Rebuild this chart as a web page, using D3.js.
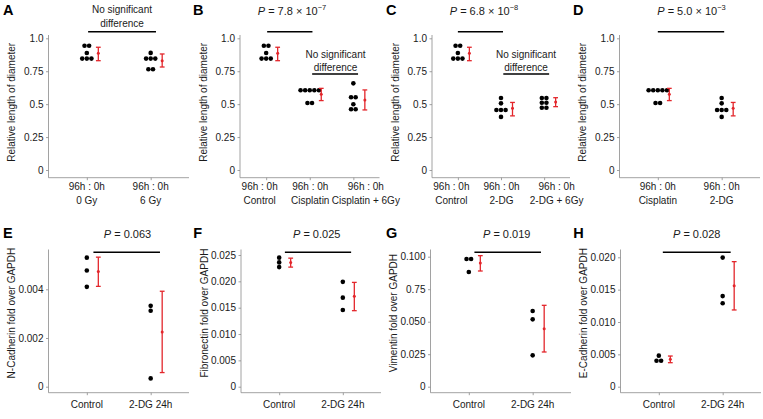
<!DOCTYPE html>
<html><head><meta charset="utf-8">
<script src="https://cdn.jsdelivr.net/npm/d3@7"></script>
<style>
html,body{margin:0;padding:0;background:#fff;}
svg{display:block;font-family:"Liberation Sans",Arial,Helvetica,sans-serif;}
</style></head>
<body>
<svg id="chart" width="763" height="419"></svg>
<script>
// ---------------- DATA ----------------
const topTickVals = [0, 0.25, 0.5, 0.75, 1.0];
const topTickLabels = ["0", "0.25", "0.5", "0.75", "1.0"];

const catsA = ["0 Gy", "6 Gy"];
const dotsA = [[0.944, 0.944, 0.888, 0.846, 0.846, 0.846], [0.889, 0.846, 0.846, 0.846, 0.765, 0.765]];
const meanA = [0.886, 0.830];
const lowA = [0.830, 0.782];
const highA = [0.932, 0.881];

const catsB = ["Control", "Cisplatin", "Cisplatin + 6Gy"];
const dotsB = [[0.944, 0.944, 0.888, 0.846, 0.846, 0.846], [0.605, 0.605, 0.605, 0.605, 0.605, 0.509, 0.509], [0.658, 0.552, 0.552, 0.499, 0.461, 0.461]];
const meanB = [0.886, 0.576, 0.532];
const lowB = [0.830, 0.527, 0.456];
const highB = [0.932, 0.620, 0.608];

const catsC = ["Control", "2-DG", "2-DG + 6Gy"];
const dotsC = [[0.944, 0.944, 0.888, 0.846, 0.846, 0.846], [0.547, 0.506, 0.456, 0.456, 0.456, 0.403], [0.547, 0.547, 0.511, 0.511, 0.473, 0.473]];
const meanC = [0.886, 0.469, 0.516];
const lowC = [0.830, 0.411, 0.481];
const highC = [0.932, 0.513, 0.549];

const catsD = ["Cisplatin", "2-DG"];
const dotsD = [[0.605, 0.605, 0.605, 0.605, 0.605, 0.509, 0.509], [0.547, 0.506, 0.456, 0.456, 0.456, 0.403]];
const meanD = [0.576, 0.469];
const lowD = [0.527, 0.411];
const highD = [0.620, 0.513];

const catsBottom = ["Control", "2-DG 24h"];

const ticksE = [0, 0.002, 0.004];
const tickLabelsE = ["0", "0.002", "0.004"];
const dotsE = [[0.0053, 0.00477, 0.0041], [0.00332, 0.00312, 0.00034]];
const meanE = [0.00473, 0.00225];
const lowE = [0.00412, 0.00058];
const highE = [0.00532, 0.00392];

const ticksF = [0, 0.005, 0.010, 0.015, 0.020, 0.025];
const tickLabelsF = ["0", "0.005", "0.010", "0.015", "0.020", "0.025"];
const dotsF = [[0.0245, 0.0236, 0.0227], [0.0199, 0.0169, 0.01456]];
const meanF = [0.0236, 0.01715];
const lowF = [0.0227, 0.01443];
const highF = [0.0244, 0.0198];

const ticksG = [0, 0.025, 0.050, 0.075, 0.100];
const tickLabelsG = ["0", "0.025", "0.050", "0.75", "0.100"];
const dotsG = [[0.0982, 0.0982, 0.0882], [0.0582, 0.0518, 0.0241]];
const meanG = [0.0951, 0.0446];
const lowG = [0.089, 0.0267];
const highG = [0.1008, 0.0626];

const ticksH = [0, 0.005, 0.010, 0.015, 0.020];
const tickLabelsH = ["0", "0.005", "0.010", "0.015", "0.020"];
const dotsH = [[0.0048, 0.00402, 0.00402], [0.01995, 0.014, 0.01289]];
const meanH = [0.00423, 0.01562];
const lowH = [0.00371, 0.01186];
const highH = [0.00474, 0.01933];

const yTitleTop = "Relative length of diameter";
const yTitlesBottom = ["N-Cadherin fold over GAPDH", "Fibronectin fold over GAPDH", "Vimentin fold over GAPDH", "E-Cadherin fold over GAPDH"];
const letters = ["A", "B", "C", "D", "E", "F", "G", "H"];
const pTexts = [null, ["7.8 × 10", "−7"], ["6.8 × 10", "−8"], ["5.0 × 10", "−3"], ["0.063"], ["0.025"], ["0.019"], ["0.028"]];
const xLine1 = "96h : 0h";

// ---------------- LAYOUT ----------------
const svg = d3.select("#chart");
const RED = "#e3262b";
const AXIS = "#8a8a8a";
const FS = 10;

const topRow = {yRange: [170, 38.3], frameTop: 35, frameBottom: 177.7, letterY: 15, pY: 15, titleDy: -4};
const botRow = {yRange: [386.7, 0], frameTop: 249.5, frameBottom: 392.7, letterY: 238.3, pY: 238.3, titleDy: -8};

const off3 = [-6.5, 0.5, 12.5];
const panels = [
  {row: topRow, x0: 48.5, x1: 189, cats: catsA, l1: true, dots: dotsA, mean: meanA, low: lowA, high: highA, dom: [0, 1], yTop: 38.3, ticks: topTickVals, tl: topTickLabels, title: yTitleTop, letterX: 3,
   sig: [{a: 0, b: 1, da: 1.3, db: 5.3, y: 31.7}], ns: {x: 122, y1: 13, y2: 26.5}},
  {row: topRow, x0: 240, x1: 379.5, cats: catsB, l1: true, lo: off3, dots: dotsB, mean: meanB, low: lowB, high: highB, dom: [0, 1], yTop: 38.3, ticks: topTickVals, tl: topTickLabels, title: yTitleTop, letterX: 193,
   sig: [{a: 0, b: 1, da: 1, db: 2.7, y: 31.7}, {a: 1, b: 2, da: 2.4, db: 4.7, y: 74}], ns: {x: 335.5, y1: 57.5, y2: 71}, pX: 292},
  {row: topRow, x0: 432, x1: 570, cats: catsC, l1: true, lo: off3, dots: dotsC, mean: meanC, low: lowC, high: highC, dom: [0, 1], yTop: 38.3, ticks: topTickVals, tl: topTickLabels, title: yTitleTop, letterX: 386,
   sig: [{a: 0, b: 1, da: 0, db: 2, y: 31.7}, {a: 1, b: 2, da: 2.3, db: 5, y: 74}], ns: {x: 526, y1: 57.5, y2: 71}, pX: 484},
  {row: topRow, x0: 619.5, x1: 760, cats: catsD, l1: true, dots: dotsD, mean: meanD, low: lowD, high: highD, dom: [0, 1], yTop: 38.3, ticks: topTickVals, tl: topTickLabels, title: yTitleTop, letterX: 573,
   sig: [{a: 0, b: 1, da: 0, db: 2.5, y: 31.7}], pX: 691.5},
  {row: botRow, x0: 48.5, x1: 189, cats: catsBottom, l1: false, dots: dotsE, mean: meanE, low: lowE, high: highE, dom: [0, 0.004], yTop: 289.3, ticks: ticksE, tl: tickLabelsE, title: yTitlesBottom[0], letterX: 3,
   sig: [{a: 0, b: 1, da: 6.6, db: 9.3, y: 252.3}], pX: 127.5},
  {row: botRow, x0: 241, x1: 381, cats: catsBottom, l1: false, dots: dotsF, mean: meanF, low: lowF, high: highF, dom: [0, 0.025], yTop: 255, ticks: ticksF, tl: tickLabelsF, title: yTitlesBottom[1], letterX: 193.3,
   sig: [{a: 0, b: 1, da: 5.7, db: 8.3, y: 252.3}], pX: 316.7},
  {row: botRow, x0: 430.5, x1: 571, cats: catsBottom, l1: false, dots: dotsG, mean: meanG, low: lowG, high: highG, dom: [0, 0.1], yTop: 256.7, ticks: ticksG, tl: tickLabelsG, title: yTitlesBottom[2], letterX: 386,
   sig: [{a: 0, b: 1, da: 5.6, db: 8.3, y: 252.3}], pX: 506.7},
  {row: botRow, x0: 620.5, x1: 761, cats: catsBottom, l1: false, dots: dotsH, mean: meanH, low: lowH, high: highH, dom: [0, 0.02], yTop: 257.3, ticks: ticksH, tl: tickLabelsH, title: yTitlesBottom[3], letterX: 573.3,
   sig: [{a: 0, b: 1, da: 4, db: 8, y: 252.3}], pX: 696.7}
];

panels.forEach((p, i) => {
  const r = p.row;
  const g = svg.append("g");
  const x = d3.scalePoint().domain(p.cats).range([p.x0, p.x1]).padding(0.6);
  const y = d3.scaleLinear().domain(p.dom).range([r.yRange[0], p.yTop]);

  // axis frame lines
  g.append("line").attr("x1", p.x0).attr("x2", p.x0).attr("y1", r.frameTop).attr("y2", r.frameBottom)
    .attr("stroke", AXIS).attr("stroke-width", 0.8);
  g.append("line").attr("x1", p.x0).attr("x2", p.x1).attr("y1", r.frameBottom).attr("y2", r.frameBottom)
    .attr("stroke", AXIS).attr("stroke-width", 0.8);

  // y axis via d3
  const yAxis = d3.axisLeft(y).tickValues(p.ticks).tickFormat((d, k) => p.tl[k]).tickSize(2.5).tickPadding(2.5);
  const ya = g.append("g").attr("transform", `translate(${p.x0},0)`).call(yAxis);
  ya.select(".domain").remove();
  ya.selectAll(".tick line").attr("stroke", AXIS).attr("stroke-width", 0.8);
  ya.selectAll(".tick text").attr("font-size", FS).attr("fill", "#1a1a1a")
    .attr("font-family", "Liberation Sans, Arial, sans-serif");

  // x axis via d3
  const xAxis = d3.axisBottom(x).tickSize(2.5).tickFormat("");
  const xa = g.append("g").attr("transform", `translate(0,${r.frameBottom})`).call(xAxis);
  xa.select(".domain").remove();
  xa.selectAll(".tick line").attr("stroke", AXIS).attr("stroke-width", 0.8);
  p.cats.forEach((c, ci) => {
    const lx = x(c) + (p.lo ? p.lo[ci] : 0);
    if (p.l1) {
      g.append("text").attr("x", lx).attr("y", 190).attr("text-anchor", "middle").attr("font-size", FS).attr("fill", "#1a1a1a").text(xLine1);
      g.append("text").attr("x", lx).attr("y", 203.5).attr("text-anchor", "middle").attr("font-size", FS).attr("fill", "#1a1a1a").text(c);
    } else {
      g.append("text").attr("x", lx).attr("y", 408).attr("text-anchor", "middle").attr("font-size", FS).attr("fill", "#1a1a1a").text(c);
    }
  });

  // y title
  const ty = (r.frameTop + r.frameBottom) / 2 + r.titleDy;
  g.append("text").attr("transform", `translate(${p.x0 - 37},${ty}) rotate(-90)`)
    .attr("text-anchor", "middle").attr("dominant-baseline", "central")
    .attr("font-size", FS).attr("fill", "#1a1a1a").text(p.title);

  // letter
  g.append("text").attr("x", p.letterX).attr("y", r.letterY).attr("font-size", 14.5).attr("font-weight", "bold").text(letters[i]);

  // dots
  const spacing = 4.6;
  p.cats.forEach((c, ci) => {
    const vals = p.dots[ci];
    const groups = d3.groups(vals, v => v);
    groups.forEach(([v, arr]) => {
      const n = arr.length;
      arr.forEach((_, k) => {
        g.append("circle").attr("cx", x(c) + (k - (n - 1) / 2) * spacing).attr("cy", y(v)).attr("r", 2.3).attr("fill", "#000");
      });
    });
    // error bar
    const ex = x(c) + 11.5;
    g.append("line").attr("x1", ex).attr("x2", ex).attr("y1", y(p.low[ci])).attr("y2", y(p.high[ci])).attr("stroke", RED).attr("stroke-width", 1.3);
    [p.low[ci], p.high[ci]].forEach(v => {
      g.append("line").attr("x1", ex - 2.4).attr("x2", ex + 2.4).attr("y1", y(v)).attr("y2", y(v)).attr("stroke", RED).attr("stroke-width", 1.3);
    });
    g.append("circle").attr("cx", ex).attr("cy", y(p.mean[ci])).attr("r", 1.5).attr("fill", RED);
  });

  // significance lines
  p.sig.forEach(s => {
    g.append("line").attr("x1", x(p.cats[s.a]) + s.da).attr("x2", x(p.cats[s.b]) + s.db)
      .attr("y1", s.y).attr("y2", s.y).attr("stroke", "#000").attr("stroke-width", 1.5);
  });

  // "No significant difference"
  if (p.ns) {
    g.append("text").attr("x", p.ns.x).attr("y", p.ns.y1).attr("text-anchor", "middle").attr("font-size", FS).attr("fill", "#1a1a1a").text("No significant");
    g.append("text").attr("x", p.ns.x).attr("y", p.ns.y2).attr("text-anchor", "middle").attr("font-size", FS).attr("fill", "#1a1a1a").text("difference");
  }

  // P value
  const pt = pTexts[i];
  if (pt) {
    const t = g.append("text").attr("x", p.pX).attr("y", r.pY).attr("text-anchor", "middle").attr("font-size", 11).attr("fill", "#1a1a1a");
    t.append("tspan").attr("font-style", "italic").text("P");
    t.append("tspan").text(" = " + pt[0]);
    if (pt[1]) {
      t.append("tspan").attr("font-size", 7.5).attr("dy", -5).text(pt[1]);
    }
  }
});
</script>
</body></html>
